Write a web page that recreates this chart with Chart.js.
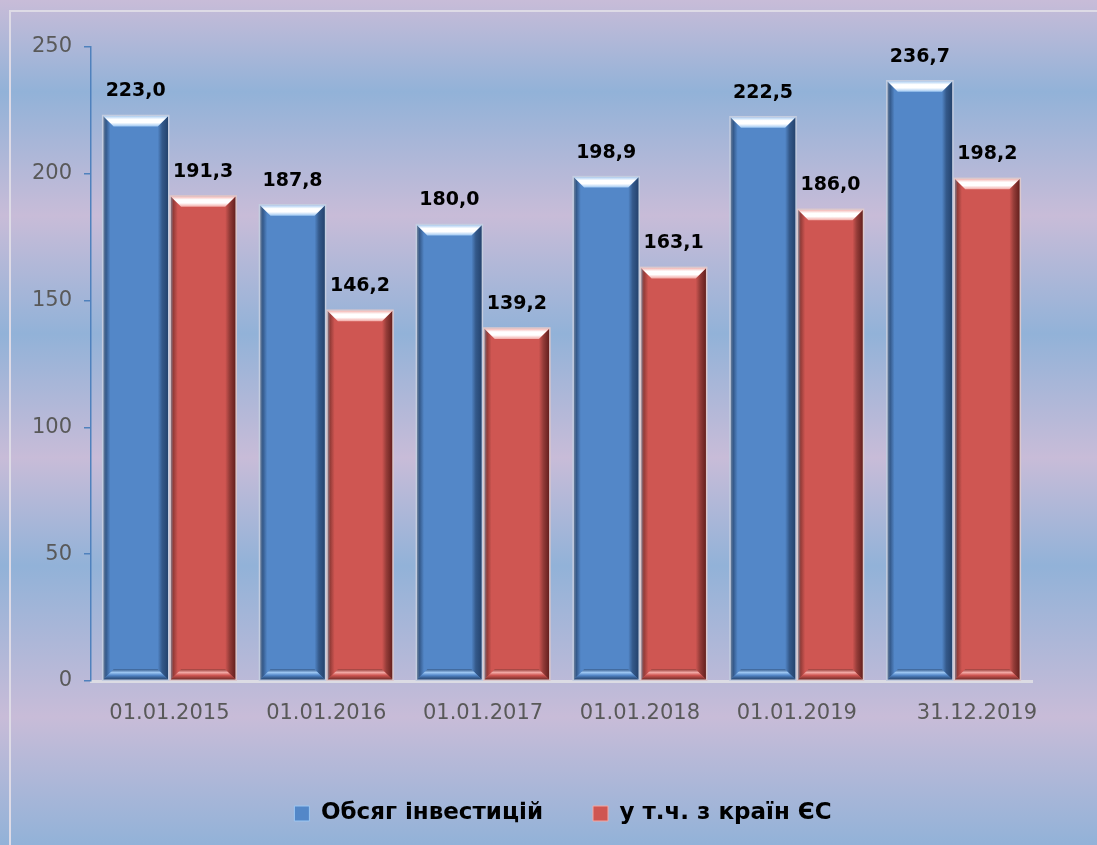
<!DOCTYPE html>
<html>
<head>
<meta charset="utf-8">
<script src="https://cdn.jsdelivr.net/npm/chart.js@4.4.1/dist/chart.umd.min.js"></script>
<style>
    html, body {
        margin: 0;
        padding: 0;
        width: 1097px;
        height: 845px;
        overflow: hidden;
    }
    body {
        position: relative;
        background: linear-gradient(to bottom,
            #c8bcd8 0px, #92b2d8 92px, #c8bcd8 216px, #92b2d8 334px,
            #c8bcd8 458px, #92b2d8 566px, #c8bcd8 717px, #92b2d8 845px);
    }
    #frame {
        position: absolute;
        left: 9px;
        top: 10px;
        width: 1200px;
        height: 1000px;
        border-left: 2px solid #dedbe6;
        border-top: 2px solid #dedbe6;
    }
    #wrap {
        position: absolute;
        left: 0;
        top: 0;
        width: 1097px;
        height: 845px;
    }
</style>
</head>
<body>
<div id="frame"></div>
<div id="wrap"><canvas id="investChart"></canvas></div>
<script>
// Chart data
const categories = ['01.01.2015', '01.01.2016', '01.01.2017', '01.01.2018', '01.01.2019', '       31.12.2019'];
const totalInvest = [223.0, 187.8, 180.0, 198.9, 222.5, 236.7];
const euInvest = [191.3, 146.2, 139.2, 163.1, 186.0, 198.2];
const seriesNames = ['Обсяг інвестицій', 'у т.ч. з країн ЄС'];
const yTicks = [0, 50, 100, 150, 200, 250];

const blue = { body: '#5387c8', light: '#9cc6f2', dark: '#22406a', low: '#34598a', border: '#c4cde0' };
const red = { body: '#cf5652', light: '#f2a8a4', dark: '#5e1c1a', low: '#943c38', border: '#dcc8cc' };

function fmt(v) {
    return v.toFixed(1).replace('.', ',');
}

// 3D bevel look for bars + value labels
const bevelPlugin = {
    id: 'bevel',
    afterDatasetsDraw(chart) {
        const ctx = chart.ctx;
        chart.data.datasets.forEach((ds, di) => {
            const pal = di === 0 ? blue : red;
            const meta = chart.getDatasetMeta(di);
            meta.data.forEach((bar, i) => {
                const L = bar.x - bar.width / 2;
                const R = bar.x + bar.width / 2;
                const T = bar.y;
                const B = bar.base;
                const b = 11;
                ctx.save();

                // left edge
                let g = ctx.createLinearGradient(L, 0, L + b, 0);
                g.addColorStop(0, '#7a8aa0');
                g.addColorStop(0.3, pal.low);
                g.addColorStop(0.7, pal.body);
                g.addColorStop(1, pal.body);
                ctx.fillStyle = g;
                ctx.beginPath();
                ctx.moveTo(L, T); ctx.lineTo(L + b, T + b); ctx.lineTo(L + b, B - b); ctx.lineTo(L, B);
                ctx.closePath(); ctx.fill();

                // right edge
                g = ctx.createLinearGradient(R - b, 0, R, 0);
                g.addColorStop(0, pal.body);
                g.addColorStop(0.4, pal.low);
                g.addColorStop(1, pal.dark);
                ctx.fillStyle = g;
                ctx.beginPath();
                ctx.moveTo(R, T); ctx.lineTo(R - b, T + b); ctx.lineTo(R - b, B - b); ctx.lineTo(R, B);
                ctx.closePath(); ctx.fill();

                // bottom edge
                g = ctx.createLinearGradient(0, B - b, 0, B);
                g.addColorStop(0, pal.low);
                g.addColorStop(0.3, pal.light);
                g.addColorStop(0.55, pal.body);
                g.addColorStop(0.8, pal.low);
                g.addColorStop(1, pal.dark);
                ctx.fillStyle = g;
                ctx.beginPath();
                ctx.moveTo(L, B); ctx.lineTo(L + b, B - b); ctx.lineTo(R - b, B - b); ctx.lineTo(R, B);
                ctx.closePath(); ctx.fill();

                // top edge with highlight
                g = ctx.createLinearGradient(0, T, 0, T + b);
                g.addColorStop(0, pal.light);
                g.addColorStop(0.35, '#ffffff');
                g.addColorStop(0.65, '#ffffff');
                g.addColorStop(1, pal.light);
                ctx.fillStyle = g;
                ctx.beginPath();
                ctx.moveTo(L, T); ctx.lineTo(R, T); ctx.lineTo(R - b, T + b); ctx.lineTo(L + b, T + b);
                ctx.closePath(); ctx.fill();

                // outline
                ctx.strokeStyle = pal.border;
                ctx.lineWidth = 1.5;
                ctx.strokeRect(L, T, R - L, B - T);

                // value label
                ctx.fillStyle = '#000000';
                ctx.font = 'bold 19px "DejaVu Sans"';
                ctx.textAlign = 'center';
                ctx.textBaseline = 'middle';
                ctx.fillText(fmt(ds.data[i]), bar.x, T - 24);
                ctx.restore();
            });
        });
    }
};

// nudge the legend to the right like in the source
const legendShift = {
    id: 'legendShift',
    afterLayout(chart) {
        if (chart.legend) {
            chart.legend.left += 42;
            chart.legend.right += 42;
        }
    }
};

const ctx = document.getElementById('investChart').getContext('2d');

new Chart(ctx, {
    type: 'bar',
    data: {
        labels: categories,
        datasets: [
            {
                label: seriesNames[0],
                data: totalInvest,
                backgroundColor: blue.body,
                borderWidth: 0,
                categoryPercentage: 0.86,
                barPercentage: 0.98
            },
            {
                label: seriesNames[1],
                data: euInvest,
                backgroundColor: red.body,
                borderWidth: 0,
                categoryPercentage: 0.86,
                barPercentage: 0.98
            }
        ]
    },
    options: {
        responsive: true,
        maintainAspectRatio: false,
        animation: false,
        layout: {
            padding: { left: 10, right: 65, top: 47, bottom: 10 }
        },
        scales: {
            x: {
                afterFit: scale => {
                    scale.height = 71;
                },
                grid: { display: false },
                border: { display: true, color: '#dcdce4', width: 3 },
                ticks: {
                    color: '#595959',
                    font: { family: 'DejaVu Sans', size: 21 },
                    padding: 12,
                    minRotation: 0,
                    maxRotation: 0,
                    autoSkip: false
                }
            },
            y: {
                min: 0,
                max: 250,
                afterBuildTicks: scale => {
                    scale.ticks = yTicks.map(v => ({ value: v }));
                },
                afterFit: scale => {
                    scale.width = 81;
                },
                grid: {
                    drawOnChartArea: false,
                    drawTicks: true,
                    tickLength: 7,
                    color: '#4f81bd',
                    lineWidth: 1.5
                },
                border: { display: true, color: '#4f81bd', width: 1.5 },
                ticks: {
                    color: '#595959',
                    font: { family: 'DejaVu Sans', size: 21 },
                    padding: 12
                }
            }
        },
        plugins: {
            legend: {
                position: 'bottom',
                labels: {
                    boxWidth: 15,
                    boxHeight: 15,
                    padding: 50,
                    color: '#000000',
                    font: { family: 'DejaVu Sans', size: 23, weight: 'bold' },
                    generateLabels: function (chart) {
                        return seriesNames.map((name, i) => ({
                            text: name,
                            fillStyle: i === 0 ? blue.body : red.body,
                            strokeStyle: i === 0 ? '#9cc6f2' : '#f2a8a4',
                            lineWidth: 1,
                            datasetIndex: i
                        }));
                    }
                }
            },
            tooltip: { enabled: false }
        }
    },
    plugins: [bevelPlugin, legendShift]
});
</script>
</body>
</html>
